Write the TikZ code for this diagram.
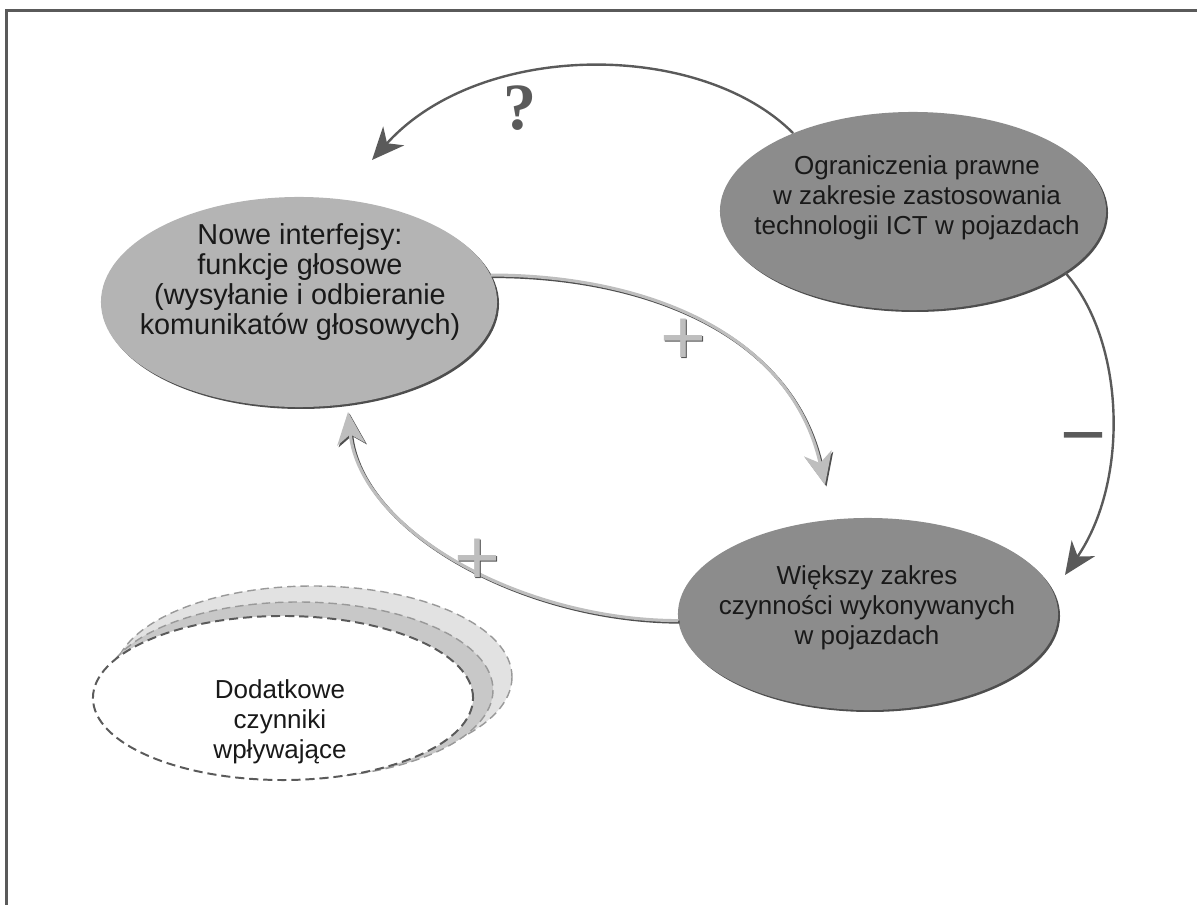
\documentclass[tikz,border=0pt]{standalone}
\usepackage{fontspec}
\setmainfont{Liberation Sans}
\newfontfamily\serifbold{Liberation Serif}
\usetikzlibrary{positioning, calc, arrows.meta, shapes.geometric, shadows}

\definecolor{bubblelight}{HTML}{B4B4B4}
\definecolor{bubbledark}{HTML}{8C8C8C}
\definecolor{linedark}{HTML}{5A5A5A}
\definecolor{linelight}{HTML}{BEBEBE}
\definecolor{rim}{HTML}{4E4E4E}
\definecolor{haloouter}{HTML}{E2E2E2}
\definecolor{haloinner}{HTML}{C8C8C8}

\tikzset{
  bubble/.style={ellipse, inner sep=0pt, fill=#1,
    drop shadow={shadow xshift=1.4pt, shadow yshift=-1.4pt, fill=rim, opacity=1}},
  txt/.style={align=center, inner sep=0pt, text=black!90,
    font=\fontsize{18.5}{21.5}\selectfont},
  darkarrow/.style={draw=linedark, line width=1.7pt,
    -{Stealth[length=23pt, width=20pt, inset=7pt]}},
  lightarrow/.style={draw=linelight, line width=2.2pt,
    -{Stealth[length=23pt, width=20pt, inset=7pt]}},
  lightrim/.style={draw=rim, line width=2.2pt,
    -{Stealth[length=23pt, width=20pt, inset=7pt]},
    transform canvas={shift={(1.5,1.5)}}},
  sign/.style={inner sep=0pt, text=#1, font=\fontsize{56}{56}\selectfont},
  halo/.style={dashed, dash pattern=on 6pt off 3.5pt, line width=1pt, draw=gray!80},
}

\begin{document}
\begin{tikzpicture}[x=0.025cm, y=-0.025cm]
\useasboundingbox (0,0) rectangle (1197,905);

% open frame, top and left only
\draw[linedark, line width=1.5pt] (6.5,905) -- (6.5,10.5) -- (1197,10.5);

% the three main factors
\node[bubble=bubblelight, minimum width=9.9cm, minimum height=5.25cm] (nowe) at (299,302) {};
\node[bubble=bubbledark, minimum width=9.65cm, minimum height=4.95cm] (ogr) at (913,211) {};
\node[bubble=bubbledark, minimum width=9.5cm, minimum height=4.8cm] (wiek) at (868,614) {};

\node[txt, font=\fontsize{20.5}{21.5}\selectfont] (noweTxt) at (300,282)
  {Nowe interfejsy:\\funkcje głosowe\\(wysyłanie i odbieranie\\komunikatów głosowych)};
\node[txt] (ogrTxt) at (917,198)
  {Ograniczenia prawne\\w zakresie zastosowania\\technologii ICT w pojazdach};
\node[txt] (wiekTxt) at (867,608)
  {Większy zakres\\czynności wykonywanych\\w pojazdach};

% dashed bubble with its grey halo
\draw[halo, fill=haloouter] (313,677) ellipse [x radius=199, y radius=91];
\draw[halo, fill=haloinner] (298,690) ellipse [x radius=195, y radius=88];
\node[ellipse, inner sep=0pt, minimum width=9.5cm, minimum height=4.1cm, fill=white,
  draw=linedark, line width=1.4pt, dash pattern=on 6.5pt off 3.5pt] (dod) at (283,698) {};
\node[txt] (dodTxt) at (280,722) {Dodatkowe\\czynniki\\wpływające};

% loose arrow ends
\coordinate (qTip) at (372,160);
\coordinate (pTip) at (825,485);
\coordinate (bTip) at (348,412);
\coordinate (mTip) at (1065,575);

% links
\draw[darkarrow] (ogr.147) .. controls (700,40) and (480,40) .. (qTip);
\draw[darkarrow] (ogr.-22) .. controls (1125,340) and (1130,480) .. (mTip);

\draw[lightrim] (nowe.8) .. controls (640,275) and (790,330) .. (pTip);
\draw[lightarrow] (nowe.8) .. controls (640,275) and (790,330) .. (pTip);
\draw[lightrim] (wiek.182) .. controls (520,620) and (360,530) .. (bTip);
\draw[lightarrow] (wiek.182) .. controls (520,620) and (360,530) .. (bTip);

% signs on the links
\node[sign=linedark, font=\serifbold\bfseries\fontsize{47}{47}\selectfont] (qMark) at (520,108) {?};
\node[sign=rim] (plusTopSh) at (684.5,343) {+};
\node[sign=linelight] (plusTop) at (683,341.5) {+};
\node[sign=rim] (plusLowSh) at (478.5,563) {+};
\node[sign=linelight] (plusLow) at (477,561.5) {+};
\node[sign=linedark] (minus) at (1083,447.5) {−};
\end{tikzpicture}
\end{document}
